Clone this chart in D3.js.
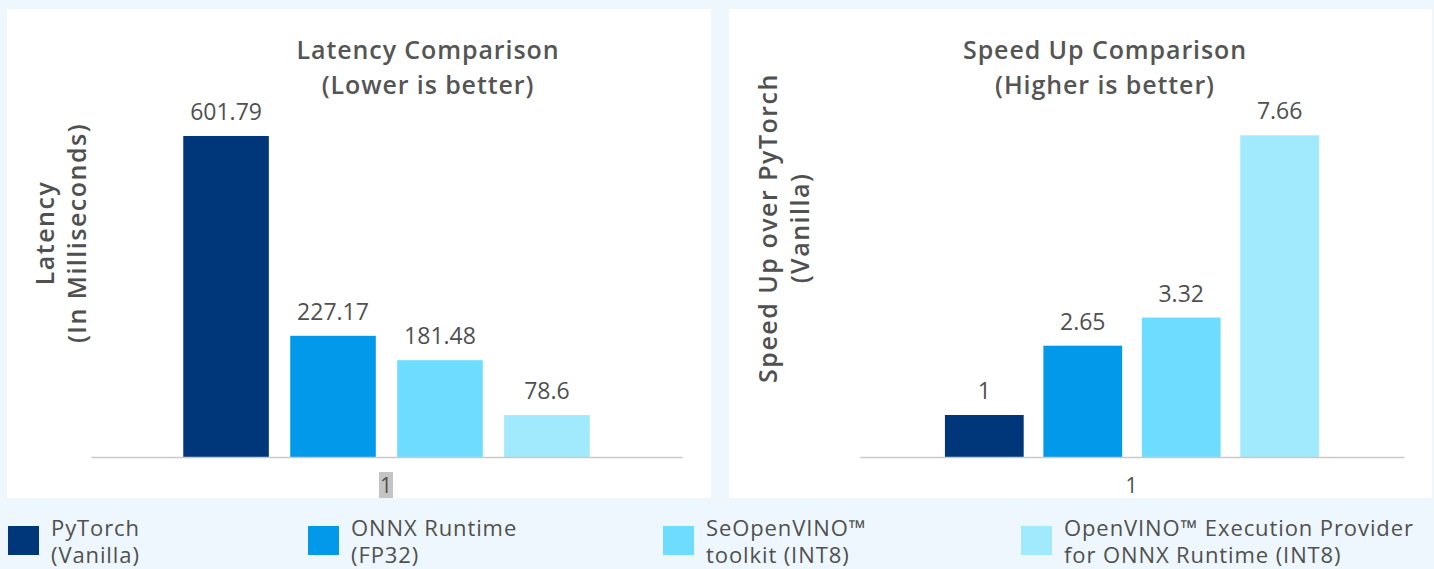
<!DOCTYPE html>
<html><head><meta charset="utf-8">
<script src="https://cdn.jsdelivr.net/npm/d3@7"></script>
<style>
html,body{margin:0;padding:0;background:#eef7fd;}
svg{display:block;}
</style></head>
<body>
<svg id="c" width="1434" height="569"></svg>
<script>
const categories = ["1"];
const seriesNames = ["PyTorch (Vanilla)", "ONNX Runtime (FP32)", "SeOpenVINO™ toolkit (INT8)", "OpenVINO™ Execution Provider for ONNX Runtime (INT8)"];
const legendLines = [["PyTorch", "(Vanilla)"], ["ONNX Runtime", "(FP32)"], ["SeOpenVINO™", "toolkit (INT8)"], ["OpenVINO™ Execution Provider", "for ONNX Runtime (INT8)"]];
const colors = ["#00367a", "#0299ea", "#6edcfe", "#a1eafd"];
const latencyValues = [601.79, 227.17, 181.48, 78.6];
const latencyLabels = ["601.79", "227.17", "181.48", "78.6"];
const speedupValues = [1, 2.65, 3.32, 7.66];
const speedupLabels = ["1", "2.65", "3.32", "7.66"];
const titles = [["Latency Comparison", "(Lower is better)"], ["Speed Up Comparison", "(Higher is better)"]];
const yLabels = [["Latency", "(In Milliseconds)"], ["Speed Up over PyTorch", "(Vanilla)"]];

const svg = d3.select("#c");
const titleFont = "'Open Sans', 'Noto Sans', sans-serif";
const axisFont = "'Open Sans', 'DejaVu Sans', sans-serif";
const txt = "#505050";

const panels = [
  {px: 7, pw: 704, x0: 91, x1: 682, yMax: 700, yTop: 83.6, values: latencyValues, labels: latencyLabels, title: titles[0], ylab: yLabels[0], tcx: 428, ylx: [44, 76], ylc: 233, hl: true},
  {px: 729, pw: 703, x0: 860, x1: 1404, yMax: 9, yTop: 79, values: speedupValues, labels: speedupLabels, title: titles[1], ylab: yLabels[1], tcx: 1105, ylx: [767, 799], ylc: 228, hl: false}
];
const baseY = 457;

panels.forEach(p => {
  svg.append("rect").attr("x", p.px).attr("y", 9).attr("width", p.pw).attr("height", 489).attr("fill", "#ffffff");
  const xg = d3.scaleBand().domain(categories).range([p.x0, p.x1]).paddingInner(0).paddingOuter(0.227);
  const xs = d3.scaleBand().domain(seriesNames).range([0, xg.bandwidth()]).paddingInner(0.2).paddingOuter(0);
  const y = d3.scaleLinear().domain([0, p.yMax]).range([baseY, p.yTop]);
  const g = svg.append("g");
  const data = seriesNames.map((s, i) => ({s, v: p.values[i], l: p.labels[i], c: colors[i], cat: categories[0]}));
  g.selectAll("rect.bar").data(data).join("rect").attr("class", "bar")
    .attr("x", d => xg(d.cat) + xs(d.s)).attr("width", xs.bandwidth())
    .attr("y", d => y(d.v)).attr("height", d => y(0) - y(d.v)).attr("fill", d => d.c);
  g.selectAll("text.val").data(data).join("text").attr("class", "val")
    .attr("x", d => xg(d.cat) + xs(d.s) + xs.bandwidth() / 2).attr("y", d => y(d.v) - 16)
    .attr("text-anchor", "middle").attr("font-family", titleFont).attr("font-size", 23).attr("fill", txt).text(d => d.l);
  const ax = svg.append("g").attr("transform", `translate(0,${baseY})`).call(d3.axisBottom(xg).tickSize(0).tickPadding(0));
  ax.select(".domain").attr("stroke", "#c9c9c9").attr("stroke-width", 1.5);
  ax.selectAll(".tick text").remove();
  const lab = svg.append("text").attr("x", xg(categories[0]) + xg.bandwidth() / 2 - 0.5).attr("y", 493)
    .attr("text-anchor", "middle").attr("font-family", titleFont).attr("font-size", 21).attr("fill", txt).text(categories[0]);
  if (p.hl) {
    const bb = lab.node().getBBox();
    svg.insert("rect", () => lab.node()).attr("x", bb.x - 1).attr("y", 472).attr("width", bb.width + 2).attr("height", 26).attr("fill", "#c4c4c4");
  }
  [0, 1].forEach(k => {
    svg.append("text").attr("x", p.tcx).attr("y", 59 + k * 35).attr("text-anchor", "middle")
      .attr("font-family", titleFont).attr("font-size", 25).attr("font-weight", 600).attr("letter-spacing", 0.9)
      .attr("fill", "#555555").text(p.title[k]);
  });
  p.ylab.forEach((t, i) => {
    svg.append("text").attr("transform", `translate(${p.ylx[i]},${p.ylc}) rotate(-90)`)
      .attr("text-anchor", "middle").attr("dominant-baseline", "central")
      .attr("font-family", axisFont).attr("font-size", 25).attr("font-weight", 600).attr("letter-spacing", 1.5)
      .attr("fill", txt).text(t);
  });
});

const legX = [8, 308, 663, 1021];
const lg = svg.append("g");
seriesNames.forEach((s, i) => {
  lg.append("rect").attr("x", legX[i]).attr("y", 526).attr("width", 31).attr("height", 29).attr("fill", colors[i]);
  legendLines[i].forEach((t, j) => {
    lg.append("text").attr("x", legX[i] + 43).attr("y", 536 + j * 27).attr("font-family", titleFont)
      .attr("font-size", 22).attr("letter-spacing", 0.9).attr("fill", txt).text(t);
  });
});
</script>
</body></html>
